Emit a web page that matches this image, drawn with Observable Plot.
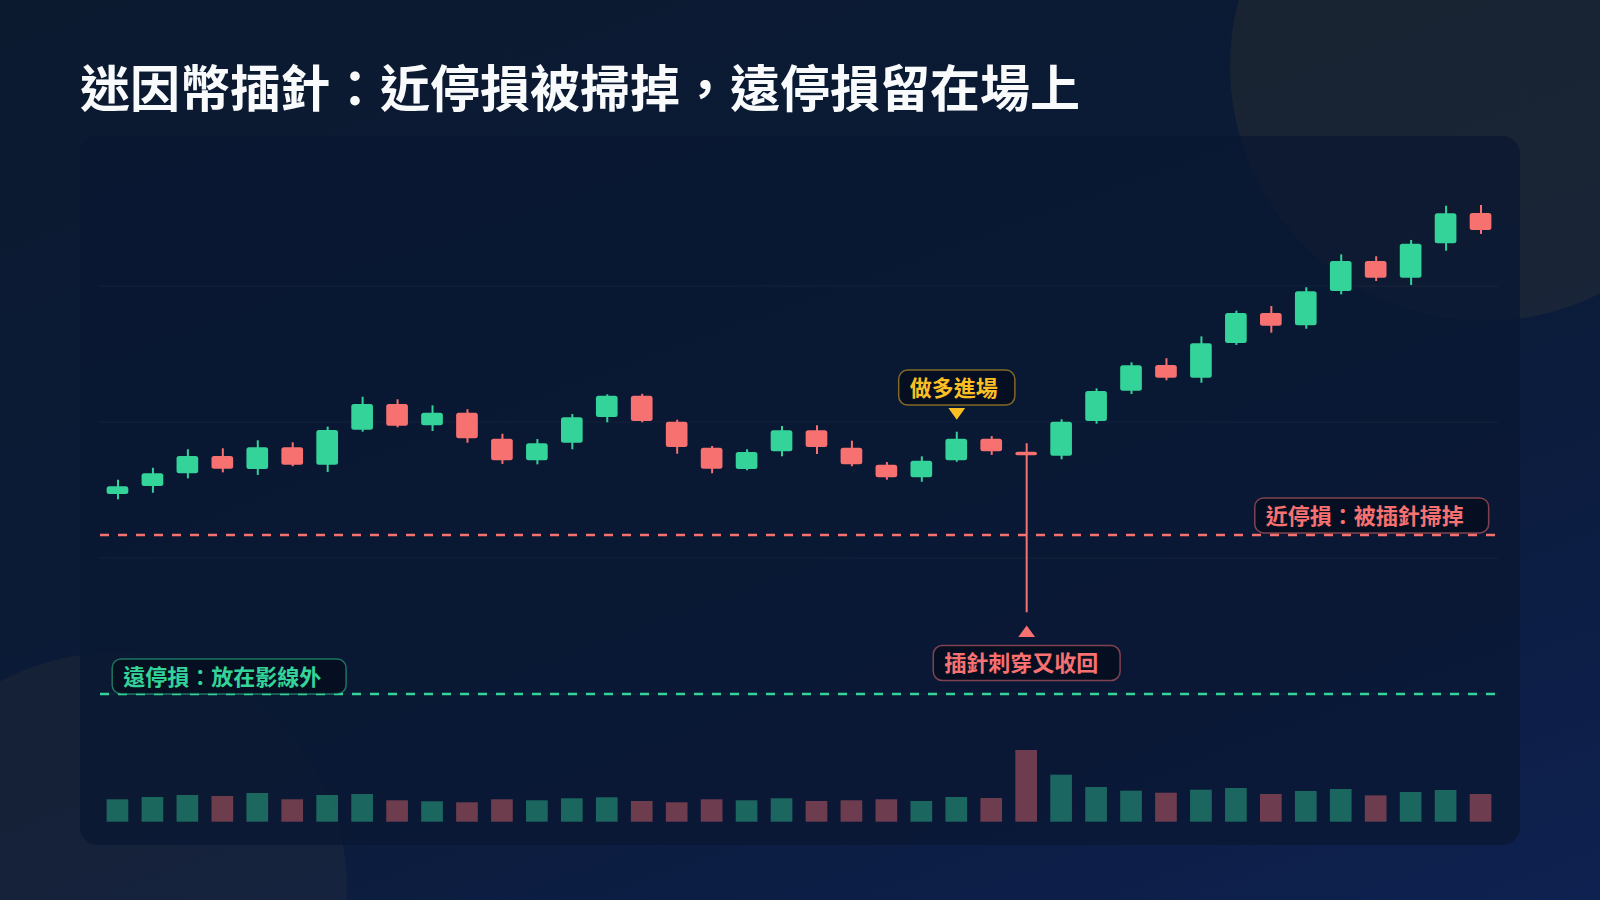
<!DOCTYPE html>
<html>
<head>
<meta charset="utf-8">
<script src="https://cdn.jsdelivr.net/npm/d3@7"></script>
<script src="https://cdn.jsdelivr.net/npm/@observablehq/plot@0.6"></script>
<style>
  html, body { margin: 0; padding: 0; }
  body {
    width: 1600px; height: 900px; overflow: hidden; position: relative;
    background: linear-gradient(160deg, #0b1a2f 0%, #0b1b38 55%, #0e2150 100%);
    font-family: "Noto Sans CJK TC", "Noto Sans", sans-serif;
  }
  .circle { position: absolute; border-radius: 50%; background: rgba(251,191,36,0.06); }
  .panel {
    position: absolute; left: 80px; top: 136px; width: 1440px; height: 709px;
    border-radius: 18px; background: rgba(9,23,50,0.74);
  }
  h1 {
    position: absolute; left: 80px; top: 60px; margin: 0;
    font: 700 50px/50px "Noto Sans CJK TC", sans-serif; color: #f8fafc; white-space: nowrap;
  }
  .layer { position: absolute; left: 0; top: 0; }
</style>
</head>
<body>
<div class="circle" style="left:1230px; top:-189px; width:510px; height:510px;"></div>
<div class="circle" style="left:-123px; top:653px; width:470px; height:470px; background: rgba(251,191,36,0.045);"></div>
<div class="panel"></div>
<h1 id="title"></h1>
<div id="vol" class="layer"></div>
<div id="price" class="layer"></div>
<script>
// ---------- data ----------
const titleText = "迷因幣插針：近停損被掃掉，遠停損留在場上";
const days = [1,2,3,4,5,6,7,8,9,10,11,12,13,14,15,16,17,18,19,20,21,22,23,24,25,26,27,28,29,30,31,32,33,34,35,36,37,38,39,40];
const open  = [1.0467,1.0526,1.0619,1.0746,1.0651,1.0810,1.0682,1.0940,1.1129,1.0972,1.1065,1.0874,1.0715,1.0844,1.1033,1.1190,1.0999,1.0807,1.0651,1.0781,1.0935,1.0807,1.0682,1.0590,1.0715,1.0874,1.0778,1.0749,1.1004,1.1226,1.1415,1.1322,1.1577,1.1798,1.1707,1.1960,1.2180,1.2057,1.2310,1.2533];
const high  = [1.0572,1.0660,1.0796,1.0803,1.0862,1.0847,1.0962,1.1182,1.1163,1.1119,1.1090,1.0910,1.0871,1.1055,1.1200,1.1204,1.1013,1.0820,1.0796,1.0967,1.0972,1.0859,1.0702,1.0744,1.0925,1.0893,1.0840,1.1016,1.1244,1.1435,1.1465,1.1626,1.1815,1.1849,1.1987,1.2229,1.2215,1.2335,1.2587,1.2592];
const low   = [1.0428,1.0476,1.0582,1.0626,1.0607,1.0671,1.0629,1.0925,1.0957,1.0930,1.0844,1.0688,1.0685,1.0796,1.0994,1.0994,1.0763,1.0619,1.0641,1.0744,1.0761,1.0671,1.0572,1.0557,1.0704,1.0754,0.9597,1.0722,1.0984,1.1202,1.1303,1.1285,1.1563,1.1653,1.1682,1.1935,1.2033,1.2004,1.2256,1.2379];
const close = [1.0524,1.0619,1.0746,1.0653,1.0810,1.0682,1.0938,1.1129,1.0969,1.1065,1.0876,1.0715,1.0840,1.1031,1.1190,1.1004,1.0813,1.0653,1.0776,1.0935,1.0813,1.0685,1.0590,1.0712,1.0874,1.0781,1.0751,1.0999,1.1224,1.1413,1.1322,1.1575,1.1798,1.1704,1.1957,1.2180,1.2057,1.2307,1.2531,1.2408];
const volume = [22.4,24.7,26.7,25.7,28.7,22.4,26.7,27.7,21.4,20.4,19.4,22.4,21.4,23.4,24.4,20.7,19.4,22.4,21.4,23.4,20.7,21.4,22.4,20.7,24.7,23.7,71.7,47.0,34.7,31.0,29.0,32.0,33.7,27.7,30.7,32.7,26.3,29.7,31.7,27.7];
const gridTicks = [0.9, 1.0, 1.1, 1.2];
const nearStop = 1.017;
const farStop = 0.90;
const entryDay = 25;
const pinDay = 27;
const entryLabel = "做多進場";
const pinLabel = "插針刺穿又收回";
const nearLabel = "近停損：被插針掃掉";
const farLabel = "遠停損：放在影線外";

// ---------- colors ----------
const GREEN = "#34d399", RED = "#f87171", AMBER = "#fbbf24";
const FONT = "'Noto Sans CJK TC', 'Noto Sans CJK SC', sans-serif";

document.getElementById("title").textContent = titleText;

const data = days.map((d, i) => ({d, o: open[i], h: high[i], l: low[i], c: close[i], v: volume[i], up: close[i] >= open[i]}));
const colorOf = d => d.up ? GREEN : RED;

const xScale = {type: "band", domain: days, paddingInner: 0.38, paddingOuter: 0.19, axis: null};
const common = {width: 1600, height: 900, marginLeft: 100, marginRight: 102, marginTop: 0, marginBottom: 0,
  style: {background: "transparent", overflow: "visible"}};

const triDown = {draw(ctx) { ctx.moveTo(-8.4, -5.8); ctx.lineTo(8.4, -5.8); ctx.lineTo(0, 5.8); ctx.closePath(); }};
const triUp = {draw(ctx) { ctx.moveTo(-8.4, 5.8); ctx.lineTo(8.4, 5.8); ctx.lineTo(0, -5.8); ctx.closePath(); }};

const entry = data.filter(d => d.d === entryDay);
const pin = data.filter(d => d.d === pinDay);
const labelStyle = {fontFamily: FONT, fontWeight: 700, fontSize: 22, lineAnchor: "middle"};

const price = Plot.plot({
  ...common,
  x: xScale,
  y: {domain: [0.9, 1.2], range: [693.5, 285.5], axis: null},
  marks: [
    Plot.ruleY(gridTicks, {stroke: "#ffffff", strokeOpacity: 0.05, strokeWidth: 1}),
    Plot.ruleY([nearStop], {stroke: RED, strokeWidth: 2.5, strokeDasharray: "9,9"}),
    Plot.ruleY([farStop], {stroke: GREEN, strokeWidth: 2.5, strokeDasharray: "9,9"}),
    Plot.ruleX(data, {x: "d", y1: "l", y2: "h", stroke: colorOf, strokeWidth: 2}),
    Plot.barY(data, {x: "d", y1: "o", y2: "c", fill: colorOf, rx: 2.5}),
    Plot.dot(entry, {x: "d", y: "h", dy: -18.3, symbol: triDown, r: 8, fill: AMBER}),
    Plot.dot(pin, {x: "d", y: "l", dy: 18.5, symbol: triUp, r: 8, fill: RED}),
    Plot.text(entry, {x: "d", y: "h", dy: -43.3, text: () => entryLabel, fill: AMBER, textAnchor: "middle", ...labelStyle}),
    Plot.text(pin, {x: "d", y: "l", dy: 51.5, text: () => pinLabel, fill: RED, textAnchor: "middle", ...labelStyle}),
    Plot.text([nearStop], {y: d => d, frameAnchor: "right", dx: -34.7, dy: -18.2, text: () => nearLabel, fill: RED, textAnchor: "end", ...labelStyle}),
    Plot.text([farStop], {y: d => d, frameAnchor: "left", dx: 22.7, dy: -16.3, text: () => farLabel, fill: GREEN, textAnchor: "start", ...labelStyle})
  ]
});

const vol = Plot.plot({
  ...common,
  x: xScale,
  y: {domain: [0, 100], range: [821.7, 721.7], axis: null},
  marks: [
    Plot.barY(data, {x: "d", y: "v", fill: colorOf, fillOpacity: 0.42})
  ]
});

document.getElementById("vol").appendChild(vol);
document.getElementById("price").appendChild(price);

// rounded label boxes behind annotation texts
const NS = "http://www.w3.org/2000/svg";
price.querySelectorAll("text").forEach(t => {
  const b = t.getBBox();
  const cs = getComputedStyle(t);
  const w = b.width;
  const boxW = w * 1.07 + 22;
  let left, shift = 0;
  if (cs.textAnchor === "middle") {
    const cx = b.x + w / 2;
    left = cx - boxW / 2;
    shift = left + 11 - b.x;
  } else {
    left = b.x - 11;
  }
  const tr = t.getAttribute("transform") || "";
  const r = document.createElementNS(NS, "rect");
  r.setAttribute("x", left);
  r.setAttribute("y", -18.8);
  r.setAttribute("width", boxW);
  r.setAttribute("height", 35);
  r.setAttribute("rx", 9);
  r.setAttribute("fill", "rgba(6,12,26,0.72)");
  r.setAttribute("stroke", cs.fill);
  r.setAttribute("stroke-opacity", 0.5);
  r.setAttribute("stroke-width", 1.5);
  r.setAttribute("transform", tr);
  t.parentNode.insertBefore(r, t);
  if (shift) t.setAttribute("transform", tr + ` translate(${shift},0)`);
});
</script>
</body>
</html>
